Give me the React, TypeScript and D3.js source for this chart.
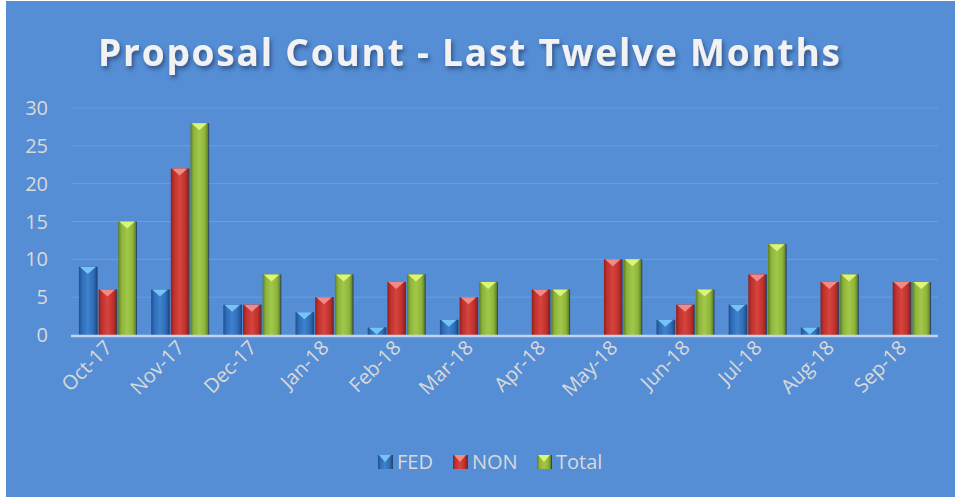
import React, { useEffect, useRef } from 'react';
import * as d3 from 'd3';

const months = ['Oct-17', 'Nov-17', 'Dec-17', 'Jan-18', 'Feb-18', 'Mar-18', 'Apr-18', 'May-18', 'Jun-18', 'Jul-18', 'Aug-18', 'Sep-18'];
const seriesNames = ['FED', 'NON', 'Total'];
const fed = [9, 6, 4, 3, 1, 2, 0, 0, 2, 4, 1, 0];
const non = [6, 22, 4, 5, 7, 5, 6, 10, 4, 8, 7, 7];
const total = [15, 28, 8, 8, 8, 7, 6, 10, 6, 12, 8, 7];
const yTicks = [0, 5, 10, 15, 20, 25, 30];

// body: [edge, mid, light], cap triangle colour
const palette: Record<string, { dark: string; mid: string; light: string; cap: string }> = {
  FED: { dark: '#1f4f8f', mid: '#2f6db8', light: '#3f82cc', cap: '#74c4f8' },
  NON: { dark: '#8e201d', mid: '#c1312c', light: '#d5443d', cap: '#f48a86' },
  Total: { dark: '#5f7d22', mid: '#8db43a', light: '#a2c84a', cap: '#dcf477' },
};

const W = 955;
const H = 497;

const App: React.FC = () => {
  const svgRef = useRef<SVGSVGElement>(null);

  useEffect(() => {
    if (!svgRef.current) return;
    const svg = d3.select(svgRef.current).html('');
    const font = "'Open Sans', 'Noto Sans', sans-serif";

    const defs = svg.append('defs');
    const shadow = defs.append('filter').attr('id', 'tshadow')
      .attr('x', '-10%').attr('y', '-30%').attr('width', '120%').attr('height', '160%');
    shadow.append('feDropShadow')
      .attr('dx', 2).attr('dy', 3).attr('stdDeviation', 2)
      .attr('flood-color', '#1a2f55').attr('flood-opacity', 0.6);

    seriesNames.forEach(s => {
      const c = palette[s];
      const g = defs.append('linearGradient').attr('id', `grad-${s}`)
        .attr('x1', '0%').attr('x2', '100%').attr('y1', '0%').attr('y2', '0%');
      g.append('stop').attr('offset', '0%').attr('stop-color', c.dark);
      g.append('stop').attr('offset', '18%').attr('stop-color', c.mid);
      g.append('stop').attr('offset', '50%').attr('stop-color', c.light);
      g.append('stop').attr('offset', '82%').attr('stop-color', c.mid);
      g.append('stop').attr('offset', '100%').attr('stop-color', c.dark);
    });

    // background
    svg.append('rect').attr('x', 0).attr('y', 0).attr('width', W).attr('height', H).attr('fill', '#ffffff');
    svg.append('rect').attr('x', 6).attr('y', 1).attr('width', W - 6).attr('height', H - 1).attr('fill', '#558ed5');

    // title
    svg.append('text')
      .attr('x', 469)
      .attr('y', 66)
      .attr('text-anchor', 'middle')
      .attr('fill', '#f2f2f2')
      .attr('font-family', font)
      .attr('font-weight', 'bold')
      .attr('font-size', 37)
      .attr('textLength', 742)
      .attr('lengthAdjust', 'spacing')
      .attr('filter', 'url(#tshadow)')
      .text('Proposal Count - Last Twelve Months');

    const x = d3.scaleBand<string>().domain(months).range([71, 938]).paddingInner(0.21).paddingOuter(0.11);
    const xs = d3.scaleBand<string>().domain(seriesNames).range([0, x.bandwidth()]).paddingInner(0.1);
    const y = d3.scaleLinear().domain([0, 30]).range([335, 108]);

    // gridlines
    svg.append('g')
      .selectAll('line')
      .data(yTicks.filter(t => t > 0))
      .join('line')
      .attr('x1', 71).attr('x2', 938)
      .attr('y1', d => y(d)).attr('y2', d => y(d))
      .attr('stroke', '#6b9fe0').attr('stroke-width', 1);

    // y tick labels
    svg.append('g')
      .selectAll('text')
      .data(yTicks)
      .join('text')
      .attr('x', 48)
      .attr('y', d => y(d))
      .attr('dy', '0.35em')
      .attr('text-anchor', 'end')
      .attr('fill', '#d9d9d9')
      .attr('font-family', font)
      .attr('font-size', 20)
      .text(d => d);

    const values: Record<string, number[]> = { FED: fed, NON: non, Total: total };
    const D = 7;

    const drawBar = (g: d3.Selection<SVGGElement, unknown, null, undefined>, s: string, bx: number, by: number, w: number, h: number) => {
      const c = palette[s];
      g.append('rect').attr('x', bx + 1).attr('y', by).attr('width', w).attr('height', h).attr('fill', '#1b2a40').attr('opacity', 0.7);
      g.append('rect').attr('x', bx).attr('y', by).attr('width', w).attr('height', h).attr('fill', `url(#grad-${s})`);
      const d = Math.min(D, h);
      const k = d / D;
      const pts: [number, number][] = [
        [bx + 1, by],
        [bx + w - 1, by],
        [bx + w - 1 - (w / 2 - 1) * k, by + d],
        [bx + 1 + (w / 2 - 1) * k, by + d],
      ];
      g.append('polygon').attr('points', pts.map(p => p.join(',')).join(' ')).attr('fill', c.cap);
    };

    // bars
    const barsG = svg.append('g');
    months.forEach((m, i) => {
      seriesNames.forEach(s => {
        const v = values[s][i];
        if (!v) return;
        const bx = (x(m) ?? 0) + (xs(s) ?? 0);
        const by = y(v);
        drawBar(barsG, s, bx, by, xs.bandwidth(), y(0) - by);
      });
    });

    // baseline
    svg.append('line')
      .attr('x1', 71).attr('x2', 938)
      .attr('y1', y(0) + 1).attr('y2', y(0) + 1)
      .attr('stroke', '#c3d5ee').attr('stroke-width', 2.5);

    // x labels
    svg.append('g')
      .selectAll('text')
      .data(months)
      .join('text')
      .attr('transform', d => `translate(${(x(d) ?? 0) + x.bandwidth() / 2 + 6},${349}) rotate(-45)`)
      .attr('text-anchor', 'end')
      .attr('fill', '#d9d9d9')
      .attr('font-family', font)
      .attr('font-size', 20)
      .text(d => d);

    // legend
    const legendX = [378, 453, 537];
    const legend = svg.append('g');
    seriesNames.forEach((s, i) => {
      const lg = legend.append('g');
      drawBar(lg, s, legendX[i], 455, 14, 14);
      lg.append('text')
        .attr('x', legendX[i] + 19)
        .attr('y', 462)
        .attr('dy', '0.35em')
        .attr('fill', '#d9d9d9')
        .attr('font-family', font)
        .attr('font-size', 20)
        .text(s);
    });
  }, []);

  return (
    <svg ref={svgRef} width={W} height={H} style={{ position: 'absolute', left: 0, top: 0, display: 'block' }}></svg>
  );
};

export default App;
